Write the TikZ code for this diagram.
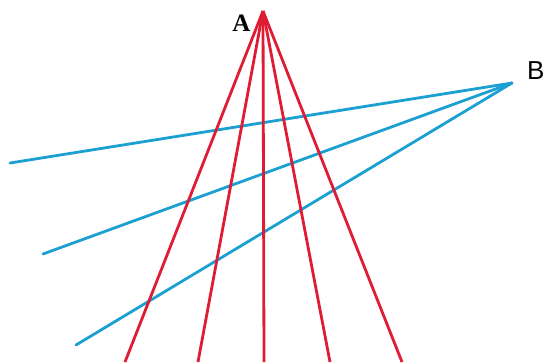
\documentclass[tikz,border=0pt]{standalone}
\usepackage{fontspec}
\newfontfamily\serifA{Liberation Serif}
\newfontfamily\sansB{Liberation Sans}
\definecolor{redline}{RGB}{222,28,52}
\definecolor{blueline}{RGB}{28,160,210}
\begin{document}
\begin{tikzpicture}[x=1pt,y=-1pt,
  redray/.style={draw=redline,line width=2.8pt},
  blueray/.style={draw=blueline,line width=2.8pt}]
\useasboundingbox (0,0) rectangle (544,362);
\coordinate (A) at (263,11);
\coordinate (B) at (512,83);
\coordinate (r1) at (125,362);
\coordinate (r2) at (198,362);
\coordinate (r3) at (264,362);
\coordinate (r4) at (330,362);
\coordinate (r5) at (402,362);
\coordinate (b1) at (10,163);
\coordinate (b2) at (43,254);
\coordinate (b3) at (76,345);
\foreach \e in {b1,b2,b3} \draw[blueray,line cap=round] (B) -- (\e);
\foreach \e in {r1,r2,r3,r4,r5} \draw[redray] (A) -- (\e);
\node[font=\serifA\bfseries\fontsize{25}{25}\selectfont,inner sep=0pt] (la) at (241.5,23) {A};
\node[font=\sansB\fontsize{26}{26}\selectfont,inner sep=0pt,anchor=west] (lb) at (527,71) {B};
\end{tikzpicture}
\end{document}
